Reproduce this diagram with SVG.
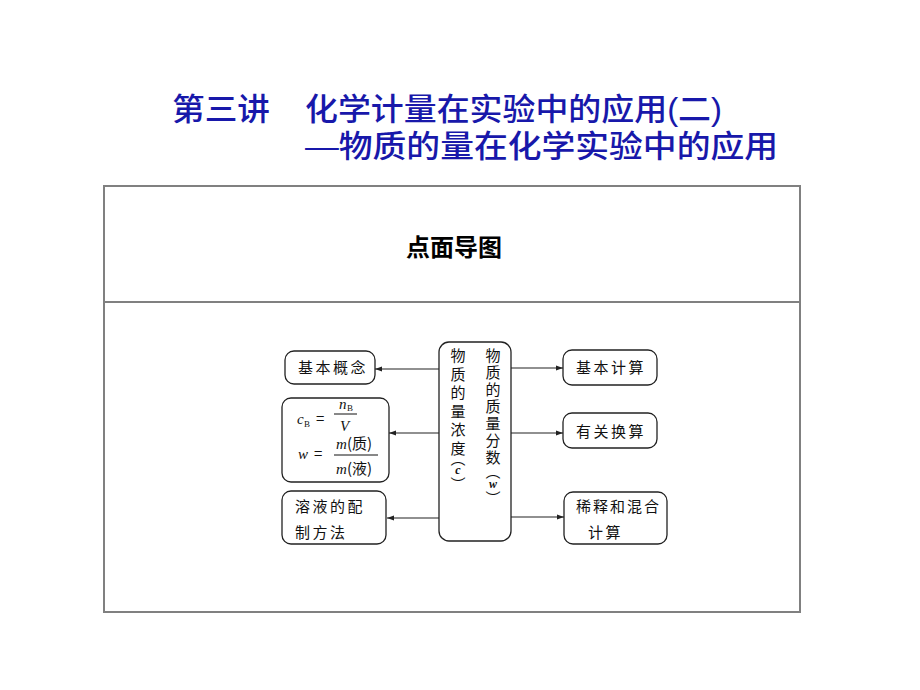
<svg xmlns="http://www.w3.org/2000/svg" width="920" height="690" viewBox="0 0 920 690">
<style>
.title{font-family:"Liberation Sans","Noto Sans CJK SC",sans-serif;font-size:31px;font-weight:500;fill:#1818aa;}
.head{font-family:"Noto Sans CJK SC",sans-serif;font-size:24px;font-weight:bold;fill:#000;}
.t{font-family:"Noto Sans CJK SC",sans-serif;font-size:15px;fill:#111;}
.vt{font-family:"Noto Sans CJK SC",sans-serif;font-size:15px;fill:#111;writing-mode:vertical-rl;text-orientation:upright;}
.vm{font-family:"Liberation Serif",serif;font-style:italic;font-weight:bold;font-size:12px;}
.m{font-family:"Liberation Serif",serif;font-style:italic;font-size:15px;fill:#111;}
.s{font-family:"Liberation Serif",serif;font-size:9px;fill:#111;}
.box{fill:#fff;stroke:#222;stroke-width:1.3;}
.frame{fill:none;stroke:#808080;stroke-width:2;}
.conn line{stroke:#222;stroke-width:1.1;}
</style>
<defs>
<marker id="ah" viewBox="0 0 10 10" refX="10" refY="5" markerWidth="7" markerHeight="7" orient="auto" markerUnits="userSpaceOnUse">
<path d="M0,1.5 L10,5 L0,8.5 Z" fill="#222"/>
</marker>
</defs>
<rect width="920" height="690" fill="#fff"/>

<g id="title">
<text class="title" x="172" y="120" textLength="98" lengthAdjust="spacingAndGlyphs">第三讲</text>
<text class="title" x="305" y="120" textLength="417" lengthAdjust="spacingAndGlyphs">化学计量在实验中的应用(二)</text>
<text class="title" x="305" y="157" textLength="473" lengthAdjust="spacingAndGlyphs">—物质的量在化学实验中的应用</text>
</g>

<g id="table">
<rect class="frame" x="104" y="186" width="696" height="426"/>
<line class="frame" x1="104" y1="302" x2="800" y2="302"/>
<text class="head" x="454" y="256" text-anchor="middle">点面导图</text>
</g>

<g class="conn" id="connectors">
<line x1="439" y1="369" x2="375" y2="369" marker-end="url(#ah)"/>
<line x1="439" y1="433" x2="389" y2="433" marker-end="url(#ah)"/>
<line x1="439" y1="518" x2="387" y2="518" marker-end="url(#ah)"/>
<line x1="511" y1="368" x2="563" y2="368" marker-end="url(#ah)"/>
<line x1="511" y1="433" x2="563" y2="433" marker-end="url(#ah)"/>
<line x1="511" y1="517" x2="564" y2="517" marker-end="url(#ah)"/>
</g>

<g id="n-jiben">
<rect class="box" x="285" y="351" width="90" height="33" rx="9"/>
<text class="t" x="298" y="373" letter-spacing="2.5">基本概念</text>
</g>

<g id="n-formula">
<rect class="box" x="282" y="398" width="107" height="84" rx="9"/>
<text class="m" x="297" y="424">c</text><text class="s" x="304" y="427">B</text>
<text class="t" x="316" y="424">=</text>
<line x1="334" y1="414" x2="357" y2="414" stroke="#111" stroke-width="1"/>
<text class="m" x="339" y="409">n</text><text class="s" x="347" y="411">B</text>
<text class="m" x="340" y="431">V</text>
<text class="m" x="298" y="459">w</text>
<text class="t" x="314" y="459">=</text>
<line x1="334" y1="455" x2="378" y2="455" stroke="#111" stroke-width="1"/>
<text class="m" x="336" y="449">m</text><text class="t" x="347" y="449">(质)</text>
<text class="m" x="336" y="474">m</text><text class="t" x="347" y="474">(液)</text>
</g>

<g id="n-peizhi">
<rect class="box" x="282" y="491" width="104" height="53" rx="9"/>
<text class="t" x="295" y="512" letter-spacing="2.5">溶液的配</text>
<text class="t" x="295" y="538" letter-spacing="2.5">制方法</text>
</g>

<g id="n-center">
<rect class="box" x="439" y="342" width="72" height="199" rx="10"/>
<text class="vt" x="458" y="348" letter-spacing="3.5">物质的量浓<tspan letter-spacing="-5">度</tspan><tspan letter-spacing="-3">（</tspan><tspan class="vm" letter-spacing="0">c</tspan><tspan letter-spacing="0">）</tspan></text>
<text class="vt" x="493" y="348" letter-spacing="2">物质的质量分<tspan letter-spacing="-1">数</tspan><tspan letter-spacing="-2">（</tspan><tspan class="vm" letter-spacing="0">w</tspan><tspan letter-spacing="0">）</tspan></text>
</g>

<g id="n-jisuan">
<rect class="box" x="563" y="350" width="94" height="35" rx="9"/>
<text class="t" x="576" y="373" letter-spacing="2.5">基本计算</text>
</g>

<g id="n-huansuan">
<rect class="box" x="563" y="413" width="94" height="35" rx="9"/>
<text class="t" x="576" y="437" letter-spacing="2.5">有关换算</text>
</g>

<g id="n-xishi">
<rect class="box" x="564" y="492" width="103" height="52" rx="9"/>
<text class="t" x="576" y="512" letter-spacing="2">稀释和混合</text>
<text class="t" x="588" y="538" letter-spacing="2.5">计算</text>
</g>
</svg>
